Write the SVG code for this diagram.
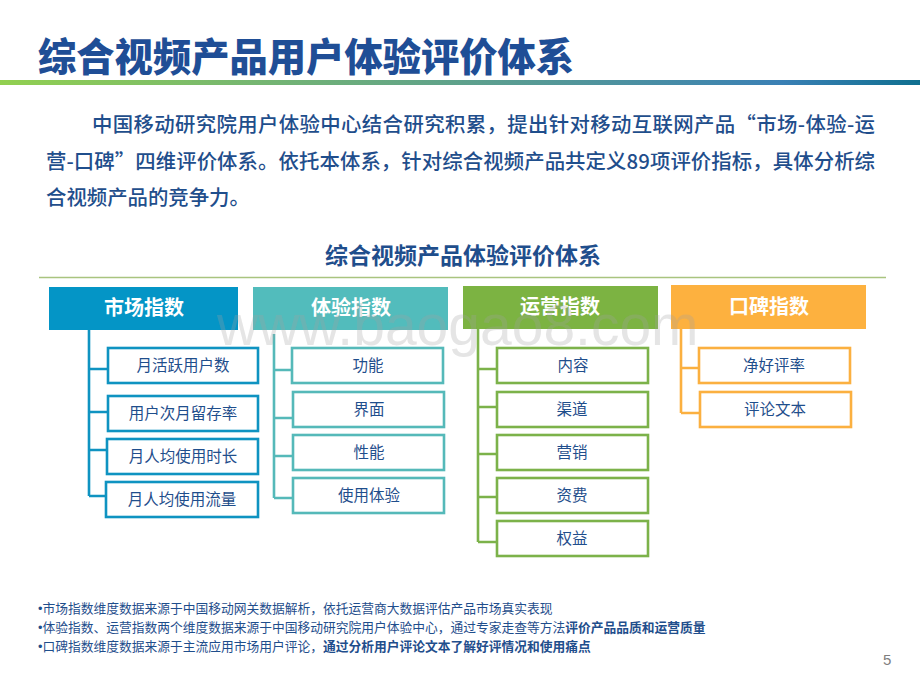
<svg xmlns="http://www.w3.org/2000/svg" width="920" height="690" viewBox="0 0 920 690">
<style>
text{font-family:"Noto Sans CJK SC","Liberation Sans",sans-serif}
.title{font-size:38.3px;font-weight:900;fill:#1f4e96}
.para{font-size:20.4px;font-weight:500;fill:#1f4e8c}
.sub{font-size:23px;font-weight:700;fill:#1f4e8c;text-anchor:middle}
.hd{font-size:20px;font-weight:700;fill:#fff;text-anchor:middle}
.ch{font-size:15.5px;fill:#1f4e8c;text-anchor:middle}
.foot{font-size:12.75px;fill:#1f4e8c}
.bul{font-family:"Liberation Sans",sans-serif}
.b{font-weight:700}
.box{fill:#fff;stroke-width:2.6}
.con{fill:none;stroke-width:2.6}
.m{stroke:#0f93c1}.e{stroke:#55b9b9}.o{stroke:#7cb24a}.r{stroke:#fbb040}
</style>
<defs><linearGradient id="g" x1="0" x2="1" y1="0" y2="0"><stop offset="0" stop-color="#92d050"/><stop offset=".85" stop-color="#3a80b5"/><stop offset="1" stop-color="#0f6f8f"/></linearGradient></defs>
<rect width="920" height="690" fill="#fff"/>
<text class="title" x="38" y="71">综合视频产品用户体验评价体系</text>
<rect x="0" y="80" width="920" height="5" fill="url(#g)"/>
<text class="para" x="92" y="132" textLength="783">中国移动研究院用户体验中心结合研究积累，提出针对移动互联网产品“市场-体验-运</text>
<text class="para" x="46" y="169" textLength="829">营-口碑”四维评价体系。依托本体系，针对综合视频产品共定义89项评价指标，具体分析综</text>
<text class="para" x="46" y="205">合视频产品的竞争力。</text>
<text class="sub" x="463" y="264">综合视频产品体验评价体系</text>
<line x1="39" y1="277.5" x2="886" y2="277.5" stroke="#a9c47f" stroke-width="1.3"/>
<g id="connectors">
<path class="con m" d="M89 330V496M89 369H108M89 412H108M89 450H107M89 496H106"/>
<path class="con e" d="M274 334V498M274 370H292M274 418H293M274 456H293M274 498H293"/>
<path class="con o" d="M478 329V542M478 369H497M478 407H497M478 454H497M478 497H497M478 542H497"/>
<path class="con r" d="M681 329V413M681 368H699M681 413H700"/>
</g>
<g id="market">
<rect x="49" y="287" width="189" height="43" fill="#0495c6"/><text class="hd" x="144" y="315">市场指数</text>
<rect class="box m" x="108" y="348" width="150" height="35"/><text class="ch" x="183" y="371">月活跃用户数</text>
<rect class="box m" x="108" y="396" width="150" height="35"/><text class="ch" x="183" y="419">用户次月留存率</text>
<rect class="box m" x="107" y="439" width="151" height="35"/><text class="ch" x="183" y="462">月人均使用时长</text>
<rect class="box m" x="106" y="482" width="152" height="35"/><text class="ch" x="182" y="505">月人均使用流量</text>
</g>
<g id="experience">
<rect x="253" y="287" width="195" height="43" fill="#52bcbc"/><text class="hd" x="351" y="315">体验指数</text>
<rect class="box e" x="292" y="348" width="151" height="35"/><text class="ch" x="368" y="371">功能</text>
<rect class="box e" x="293" y="392" width="151" height="35"/><text class="ch" x="369" y="415">界面</text>
<rect class="box e" x="293" y="435" width="151" height="35"/><text class="ch" x="369" y="458">性能</text>
<rect class="box e" x="293" y="478" width="151" height="35"/><text class="ch" x="369" y="501">使用体验</text>
</g>
<g id="operations">
<rect x="463" y="286" width="195" height="43" fill="#7cb342"/><text class="hd" x="560" y="314">运营指数</text>
<rect class="box o" x="497" y="348" width="151" height="35"/><text class="ch" x="573" y="371">内容</text>
<rect class="box o" x="497" y="392" width="151" height="35"/><text class="ch" x="572" y="415">渠道</text>
<rect class="box o" x="497" y="435" width="151" height="35"/><text class="ch" x="572" y="458">营销</text>
<rect class="box o" x="497" y="478" width="151" height="35"/><text class="ch" x="572" y="501">资费</text>
<rect class="box o" x="497" y="521" width="151" height="35"/><text class="ch" x="572" y="544">权益</text>
</g>
<g id="reputation">
<rect x="671" y="285" width="195" height="44" fill="#fdb13f"/><text class="hd" x="769" y="314">口碑指数</text>
<rect class="box r" x="699" y="348" width="151" height="35"/><text class="ch" x="774" y="371">净好评率</text>
<rect class="box r" x="700" y="392" width="151" height="35"/><text class="ch" x="775" y="415">评论文本</text>
</g>
<text x="217" y="345" font-size="57" fill="#a0a0a0" fill-opacity=".28" style="font-family:'Liberation Sans',sans-serif">www.baogao8.com</text>
<g id="notes">
<text class="foot" x="38" y="612.5"><tspan class="bul">•</tspan>市场指数维度数据来源于中国移动网关数据解析，依托运营商大数据评估产品市场真实表现</text>
<text class="foot" x="38" y="632"><tspan class="bul">•</tspan>体验指数、运营指数两个维度数据来源于中国移动研究院用户体验中心，通过专家走查等方法<tspan class="b">评价产品品质和运营质量</tspan></text>
<text class="foot" x="38" y="651"><tspan class="bul">•</tspan>口碑指数维度数据来源于主流应用市场用户评论，<tspan class="b">通过分析用户评论文本了解好评情况和使用痛点</tspan></text>
</g>
<text x="883" y="665" font-size="15" fill="#7f7f7f" style="font-family:'Liberation Sans',sans-serif">5</text>
</svg>
